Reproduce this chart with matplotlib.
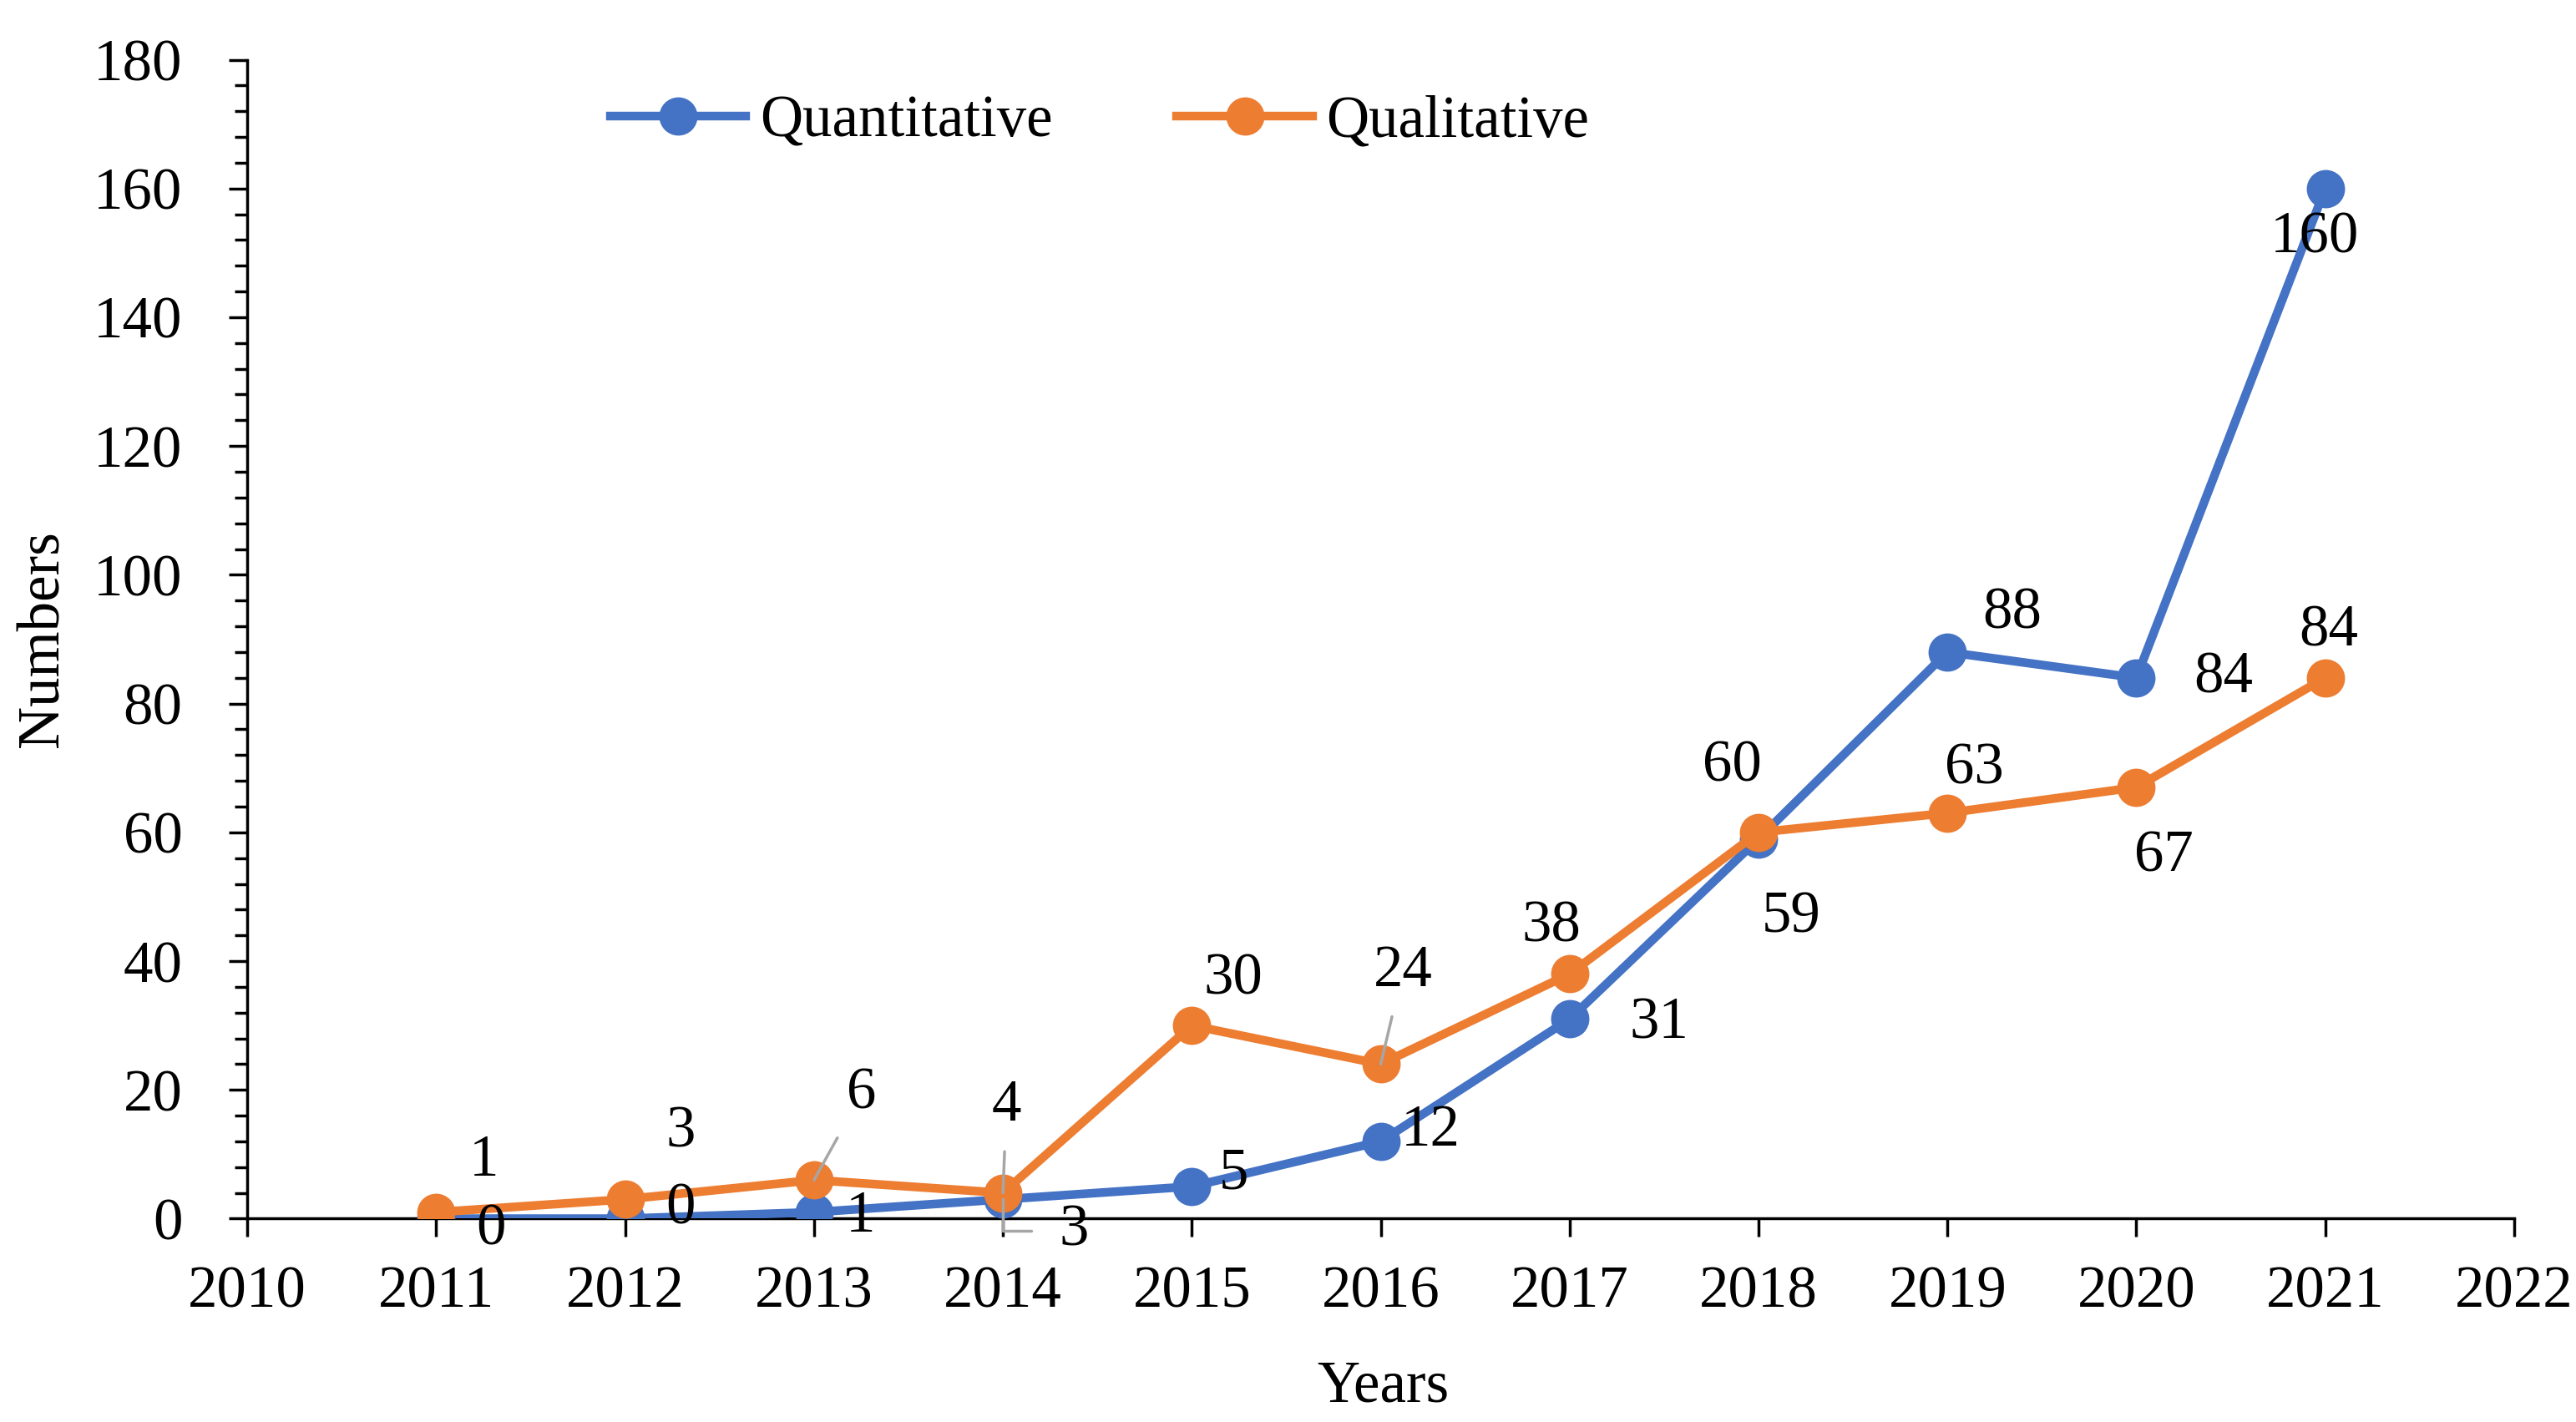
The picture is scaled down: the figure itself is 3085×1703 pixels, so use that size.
import numpy as np
import matplotlib
matplotlib.use('Agg')
import matplotlib.pyplot as plt
from matplotlib.ticker import MultipleLocator

years = [2011, 2012, 2013, 2014, 2015, 2016, 2017, 2018, 2019, 2020, 2021]
quantitative = [0, 0, 1, 3, 5, 12, 31, 59, 88, 84, 160]
qualitative = [1, 3, 6, 4, 30, 24, 38, 60, 63, 67, 84]

# label offsets in points (dx, dy), and whether a leader line is drawn
quant_off = [(47, -10), (48, 8), (40, -4), (61, -27), (36, 11), (43, 9),
             (77, -4), (28, -68), (56, 33), (75, 0), (-9, -43)]
quant_lead = [False, False, False, True, False, False, False, False, False, False, False]
qual_off = [(41, 44), (48, 58), (41, 74), (3, 75), (36, 40), (19, 80),
            (-16, 41), (-23, 57), (23, 38), (24, -60), (3, 40)]
qual_lead = [False, False, True, True, False, True, False, False, False, False, False]

blue = '#4472C4'
orange = '#ED7D31'
fs = 51

plt.rcParams['font.family'] = ['Liberation Serif', 'DejaVu Serif']
fig = plt.figure(figsize=(30.85, 17.03), dpi=100)
ax = fig.add_axes([0.096, 0.143, 0.880, 0.815])

ax.plot(years, quantitative, color=blue, lw=7.5, marker='o', ms=32, label='Quantitative', zorder=3)
ax.plot(years, qualitative, color=orange, lw=7.5, marker='o', ms=32, label='Qualitative', zorder=4)

def put_labels(vals, offs, leads):
    for x, v, (dx, dy), ld in zip(years, vals, offs, leads):
        ap = None
        if ld:
            ap = dict(arrowstyle='-', color='#A6A6A6', lw=2.5, shrinkA=14, shrinkB=0)
            if dy < 0:
                ap['connectionstyle'] = 'angle,angleA=0,angleB=90,rad=0'
                ap['shrinkA'] = 22
        ax.annotate(str(v), (x, v), xytext=(dx, dy), textcoords='offset points',
                    ha='center', va='center', fontsize=fs, arrowprops=ap, zorder=5)

put_labels(quantitative, quant_off, quant_lead)
put_labels(qualitative, qual_off, qual_lead)

ax.set_xlim(2010, 2022)
ax.set_ylim(0, 180)
ax.xaxis.set_major_locator(MultipleLocator(1))
ax.yaxis.set_major_locator(MultipleLocator(20))
ax.yaxis.set_minor_locator(MultipleLocator(4))
ax.spines['top'].set_visible(False)
ax.spines['right'].set_visible(False)
ax.spines['left'].set_linewidth(2.5)
ax.spines['bottom'].set_linewidth(2.5)
ax.tick_params(axis='y', which='major', length=16, width=2.5, labelsize=fs, pad=40)
ax.tick_params(axis='y', which='minor', length=11, width=2.5)
ax.tick_params(axis='x', which='major', length=16, width=2.5, labelsize=fs, pad=24)

ax.set_xlabel('Years', fontsize=fs)
ax.set_ylabel('Numbers', fontsize=fs)
ax.xaxis.set_label_coords(0.501, -0.122)
ax.yaxis.set_label_coords(-0.078, 0.5)

ax.legend(loc='center', bbox_to_anchor=(0.376, 0.946), ncol=2, frameon=False,
          fontsize=fs, handlelength=2.3, handletextpad=0.23, columnspacing=2.1)

plt.savefig('out.png', dpi=100)
